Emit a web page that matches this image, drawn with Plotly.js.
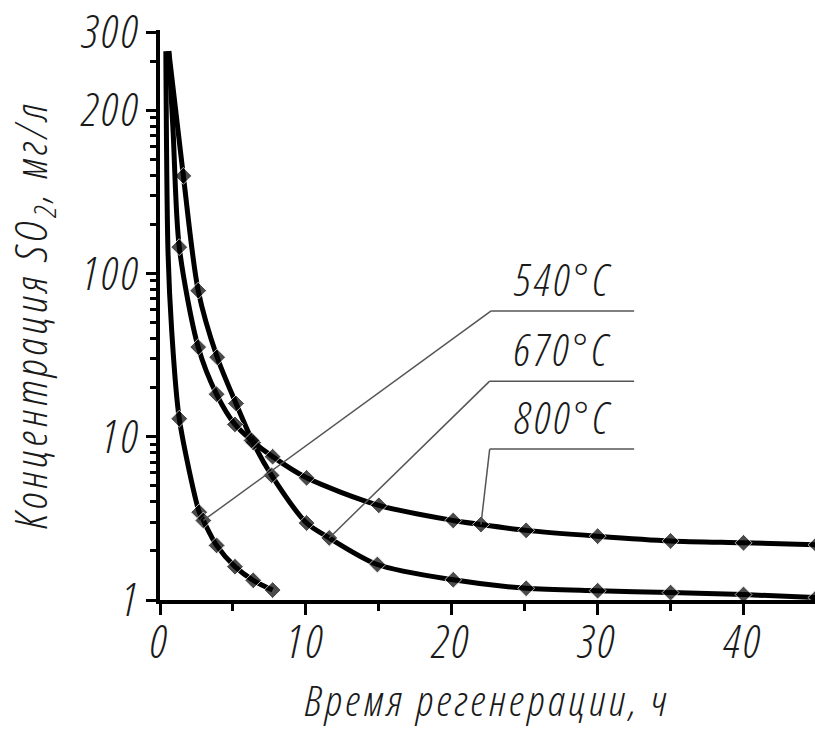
<!DOCTYPE html>
<html>
<head>
<meta charset="utf-8">
<script src="https://cdn.plot.ly/plotly-3.0.1.min.js"></script>
<style>
html,body{margin:0;padding:0;background:#fff;}
#chart{width:815px;height:729px;}
svg text{font-stretch:75% !important; letter-spacing:3.5px;}
svg text.ytitle{letter-spacing:4px;}
svg .xtick text, svg .ytick text{letter-spacing:3px;}
</style>
</head>
<body>
<div id="chart"></div>
<script>
// Time, h
var t540 = [0.4, 0.55, 0.8, 1.32, 2.69, 2.97, 3.88, 5.14, 6.39, 7.72];
var v540 = [2300, 135, 45, 12.9, 3.45, 3.07, 2.16, 1.6, 1.32, 1.15];
var m540 = [0, 0, 0, 1, 1, 1, 1, 1, 1, 1];

var t670 = [0.6, 1.6, 2.62, 3.92, 5.21, 6.39, 7.65, 10.05, 11.6, 14.9, 20.1, 25.1, 30, 35, 40, 45];
var v670 = [2300, 396, 78.5, 30.7, 16, 9.2, 5.8, 2.96, 2.4, 1.65, 1.33, 1.18, 1.14, 1.11, 1.08, 1.035];
var m670 = [0, 1, 1, 1, 1, 1, 1, 1, 1, 1, 1, 1, 1, 1, 1, 1];

var t800 = [0.6, 0.9, 1.32, 2.62, 3.88, 5.14, 6.28, 7.72, 10.05, 15.0, 20.1, 22.0, 25.1, 30, 35, 40, 45];
var v800 = [2300, 735, 145, 35.4, 18.2, 11.9, 9.5, 7.55, 5.6, 3.8, 3.07, 2.9, 2.67, 2.46, 2.3, 2.24, 2.18];
var m800 = [0, 0, 1, 1, 1, 1, 1, 1, 1, 1, 1, 1, 1, 1, 1, 1, 1];

var seriesNames = ["540°C", "670°C", "800°C"];
// index of the point each label's leader line points to
var leaderIdx = [5, 8, 11];
// leader elbow (t, value) and label level
var leaderElbowT = [22.7, 22.6, 22.6];
var leaderLevel = [59, 21.9, 8.4];
var leaderEndT = 32.5;
var labelT = 27.6;

var xTickVals = [0, 10, 20, 30, 40];
var xMinorVals = [5, 15, 25, 35];
var yTickVals = [1, 10, 100, 1000, 3000];
var yTickText = ["1", "10", "100", "200", "300"];
var yMinorVals = [2,3,4,5,6,7,8,9,20,30,40,50,60,70,80,90,200,300,400,500,600,700,800,900,2000];

var FONT = "'Open Sans', Roboto, 'DejaVu Sans', sans-serif";
var INK = "#1a1a1a";
function F(size) { return {family: FONT, size: size, color: INK, weight: 300, style: "italic"}; }

function mk(t, v, m, name) {
  return {
    x: t, y: v, name: name, type: "scatter", mode: "lines+markers",
    line: {color: "#000", width: 5, shape: "spline", smoothing: 0.8},
    marker: {symbol: "diamond", color: "#000", size: m.map(function(k){ return k ? 13 : 0; })},
    showlegend: false, hoverinfo: "x+y"
  };
}
var data = [mk(t540, v540, m540, seriesNames[0]), mk(t670, v670, m670, seriesNames[1]), mk(t800, v800, m800, seriesNames[2])];

var all = [[t540, v540], [t670, v670], [t800, v800]];
var shapes = [], annotations = [];
for (var i = 0; i < 3; i++) {
  var ax = all[i][0][leaderIdx[i]], ay = all[i][1][leaderIdx[i]];
  shapes.push({type: "line", xref: "x", yref: "y", x0: ax, y0: ay, x1: leaderElbowT[i], y1: leaderLevel[i], line: {color: "#555", width: 1.5}});
  shapes.push({type: "line", xref: "x", yref: "y", x0: leaderElbowT[i], y0: leaderLevel[i], x1: leaderEndT, y1: leaderLevel[i], line: {color: "#555", width: 1.5}});
  annotations.push({x: labelT, y: Math.log10(leaderLevel[i]), xref: "x", yref: "y", text: seriesNames[i],
    showarrow: false, xanchor: "center", yanchor: "bottom", yshift: 0, font: F(44)});
}

var layout = {
  width: 815, height: 729,
  margin: {l: 160, r: 0, t: 30, b: 129},
  paper_bgcolor: "#fff", plot_bgcolor: "#fff",
  font: F(40),
  showlegend: false,
  xaxis: {
    range: [0, 44.9], tickmode: "array", tickvals: xTickVals,
    ticktext: xTickVals.map(String),
    ticks: "outside", ticklen: 11, tickwidth: 3, tickcolor: "#000",
    ticklabelstandoff: -12,
    minor: {tickmode: "array", tickvals: xMinorVals, ticks: "outside", ticklen: 7, tickwidth: 3, tickcolor: "#000", showgrid: false},
    showline: true, linewidth: 4, linecolor: "#000", showgrid: false, zeroline: false,
    tickfont: F(46),
    title: {text: "Время регенерации, ч", font: F(43), standoff: 30}
  },
  yaxis: {
    type: "log", range: [0, Math.log10(3100)], tickmode: "array", tickvals: yTickVals,
    ticktext: yTickText, ticklabeloverflow: "allow",
    ticks: "outside", ticklen: 10, tickwidth: 3, tickcolor: "#000",
    ticklabelstandoff: -4,
    minor: {tickmode: "array", tickvals: yMinorVals, ticks: "outside", ticklen: 6, tickwidth: 3, tickcolor: "#000", showgrid: false},
    showline: true, linewidth: 4, linecolor: "#000", showgrid: false, zeroline: false,
    tickfont: F(46),
    title: {text: "Концентрация SO<sub>2</sub>, мг/л", font: F(44), standoff: 28}
  },
  shapes: shapes,
  annotations: annotations
};

Plotly.newPlot("chart", data, layout, {displayModeBar: false, staticPlot: true});
</script>
</body>
</html>
